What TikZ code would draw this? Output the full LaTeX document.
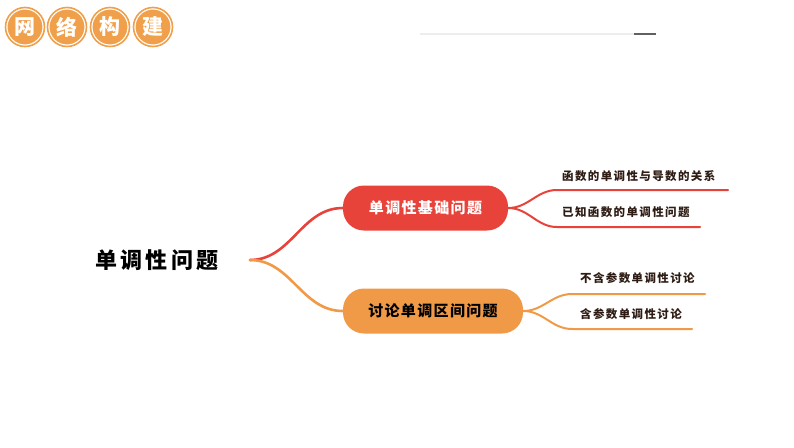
\documentclass[tikz,border=0pt]{standalone}
\usepackage{fontspec}
\setmainfont{Noto Sans CJK SC}
\usetikzlibrary{positioning}

\definecolor{mapred}{HTML}{E8433B}
\definecolor{maporange}{HTML}{F09A48}
\definecolor{badge}{HTML}{F0A04B}
\definecolor{leaftext}{HTML}{2E1C14}

\tikzset{
  badgecirc/.style={circle, fill=badge, draw=white, double=badge, double distance=1.6pt,
    line width=1.2pt, minimum size=39pt, inner sep=0pt, text=white,
    font=\fontsize{21}{21}\selectfont\bfseries},
  topicbox/.style={rectangle, rounded corners=21pt, minimum height=45pt, inner sep=0pt,
    font=\fontsize{15}{15}\selectfont\bfseries\addfontfeature{LetterSpace=9}},
  leaflabel/.style={anchor=south west, inner sep=1pt, text=leaftext,
    font=\fontsize{11.5}{11.5}\selectfont\bfseries\addfontfeature{LetterSpace=12}},
  branch/.style={line width=2.6pt, line cap=round},
  twig/.style={line width=2pt, line cap=round}
}

\begin{document}
\begin{tikzpicture}[x=1pt, y=-1pt]
    \useasboundingbox (0,0) rectangle (794,447);

    % badge at top left
    \node [badgecirc] (b1) at (25,27)  {网};
    \node [badgecirc] (b2) at (67,27)  {络};
    \node [badgecirc] (b3) at (110,27) {构};
    \node [badgecirc] (b4) at (153,27) {建};

    % slider line at the top
    \coordinate (barL) at (420,34);
    \coordinate (barM) at (634,34);
    \coordinate (barR) at (656,34);
    \draw [line width=1.2pt, black!7] (barL) -- (barM);
    \draw [line width=1.8pt, black!62] (barM) -- (barR);

    \node [font=\fontsize{22}{22}\selectfont\bfseries\addfontfeature{LetterSpace=14}] (root) at (157,260) {单调性问题};
    \coordinate (fork) at (250,260);

    \node [topicbox, fill=mapred, text=white, minimum width=165pt] (basic) at (425.5,208) {单调性基础问题};
    \node [topicbox, fill=maporange, text=black, minimum width=180pt] (discuss) at (433,311) {讨论单调区间问题};

    % leaf ends
    \coordinate (a1) at (557,190); \coordinate (a1e) at (728,190);
    \coordinate (a2) at (557,227); \coordinate (a2e) at (700,227);
    \coordinate (c1) at (572,294); \coordinate (c1e) at (705,294);
    \coordinate (c2) at (572,329); \coordinate (c2e) at (692,329);

    \node [leaflabel] (la1) at (561,183) {函数的单调性与导数的关系};
    \node [leaflabel] (la2) at (561,219) {已知函数的单调性问题};
    \node [leaflabel] (lc1) at (579,285) {不含参数单调性讨论};
    \node [leaflabel] (lc2) at (579,321) {含参数单调性讨论};

    % Now draw the lines:
    \draw [branch, mapred] (fork) to[out=0, in=180] (basic.west);
    \draw [branch, maporange] (fork) to[out=0, in=180] (discuss.west);

    \draw [twig, mapred] (basic.east) to[out=0, in=180] (a1) -- (a1e);
    \draw [twig, mapred] (basic.east) to[out=0, in=180] (a2) -- (a2e);
    \draw [twig, maporange] (discuss.east) to[out=0, in=180] (c1) -- (c1e);
    \draw [twig, maporange] (discuss.east) to[out=0, in=180] (c2) -- (c2e);
\end{tikzpicture}
\end{document}
